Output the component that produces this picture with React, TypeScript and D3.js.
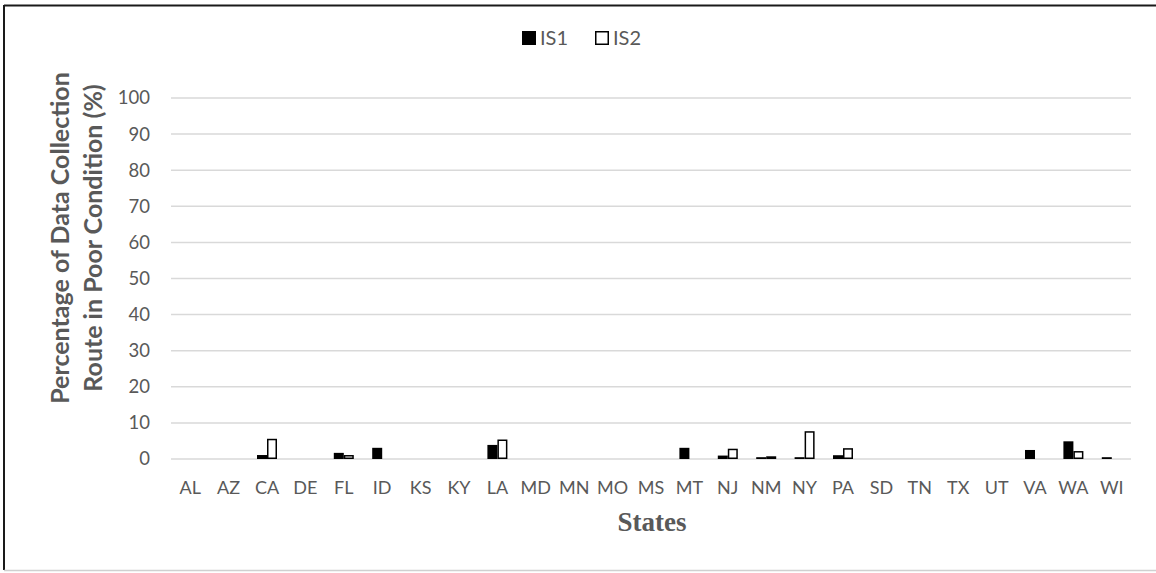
import React from "react";
import * as d3 from "d3";

const states = ["AL","AZ","CA","DE","FL","ID","KS","KY","LA","MD","MN","MO","MS","MT","NJ","NM","NY","PA","SD","TN","TX","UT","VA","WA","WI"];
const is1 = [0,0,1.1,0,1.7,3.1,0,0,3.9,0,0,0,0,3.1,0.95,0.5,0.5,1.05,0,0,0,0,2.5,4.9,0.5];
const is2 = [0,0,5.6,0,1.1,0,0,0,5.4,0,0,0,0,0,2.85,0.75,7.7,3.0,0,0,0,0,0,2.2,0];
const seriesNames = ["IS1","IS2"];
const yTicks = [0,10,20,30,40,50,60,70,80,90,100];

const W = 1156, H = 573;
const left = 171, right = 1131, top = 98, bottom = 459;
const gray = "#595959";
const font = "Lato, 'Open Sans', sans-serif";

export default function App() {
  const x0 = d3.scaleBand<string>().domain(states).range([left, right]).padding(0);
  const x1 = d3.scaleBand<string>().domain(seriesNames).range([-10, 10]).padding(0);
  const y = d3.scaleLinear().domain([0, 100]).range([bottom, top]);
  const series = [is1, is2];
  const legY = 38;

  return (
    <svg width={W} height={H} style={{ position: "absolute", left: 0, top: 0, background: "#fff" }}>
      <rect x={0} y={0} width={W} height={H} fill="#fff" />
      {/* frame */}
      <line x1={4} y1={5.5} x2={W} y2={5.5} stroke="#1a1a1a" strokeWidth={2} />
      <line x1={4} y1={5} x2={4} y2={H - 3} stroke="#1a1a1a" strokeWidth={2} />
      <line x1={4} y1={H - 2.5} x2={W} y2={H - 2.5} stroke="#d0d0d0" strokeWidth={1.5} />
      {/* gridlines */}
      {yTicks.map((t) => (
        <g key={t}>
          <line x1={left} x2={right} y1={y(t)} y2={y(t)} stroke="#d9d9d9" strokeWidth={1.5} />
          <text x={150} y={y(t)} dy="0.35em" textAnchor="end" fontFamily={font} fontSize={18.5} fill={gray}>{t}</text>
        </g>
      ))}
      {/* bars */}
      {states.map((s, i) => {
        const cx = (x0(s) as number) + x0.bandwidth() / 2;
        return (
          <g key={s}>
            {series.map((vals, k) => {
              const v = vals[i];
              if (v <= 0) return null;
              const bx = cx + (x1(seriesNames[k]) as number);
              const by = y(v);
              const h = y(0) - by;
              return k === 0 ? (
                <rect key={k} x={bx} y={by} width={x1.bandwidth()} height={h} fill="#000" />
              ) : (
                <rect key={k} x={bx + 0.75} y={by + 0.75} width={x1.bandwidth() - 1.5} height={Math.max(h - 1.5, 0.5)} fill="#fff" stroke="#000" strokeWidth={1.5} />
              );
            })}
            <text x={cx} y={488} dy="0.35em" textAnchor="middle" fontFamily={font} fontSize={18} fill={gray}>{s}</text>
          </g>
        );
      })}
      {/* axis titles */}
      <text x={652} y={531} textAnchor="middle" fontFamily="'Liberation Serif', 'Times New Roman', serif" fontWeight="bold" fontSize={27} fill={gray}>States</text>
      <g transform="translate(60,238) rotate(-90)">
        <text x={0} y={0} dy="0.35em" textAnchor="middle" fontFamily={font} fontWeight="bold" fontSize={25} fill={gray}>Percentage of Data Collection</text>
        <text x={0} y={33} dy="0.35em" textAnchor="middle" fontFamily={font} fontWeight="bold" fontSize={25} fill={gray}>Route in Poor Condition (%)</text>
      </g>
      {/* legend */}
      <rect x={522} y={legY - 7} width={14} height={14} fill="#000" />
      <text x={540} y={legY} dy="0.35em" fontFamily={font} fontSize={20} fill={gray}>IS1</text>
      <rect x={595.75} y={legY - 6.25} width={12.5} height={12.5} fill="#fff" stroke="#000" strokeWidth={1.5} />
      <text x={613} y={legY} dy="0.35em" fontFamily={font} fontSize={20} fill={gray}>IS2</text>
    </svg>
  );
}
